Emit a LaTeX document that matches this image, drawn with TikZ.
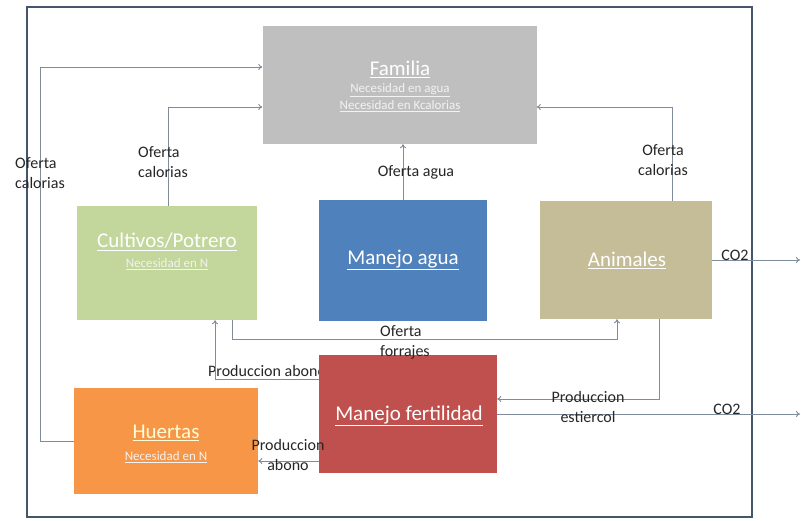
\documentclass[tikz,border=0pt]{standalone}
\usepackage{fontspec}
\setmainfont{Carlito}
\usetikzlibrary{arrows.meta}
\definecolor{famgray}{HTML}{BFBFBF}
\definecolor{culgreen}{HTML}{C3D69B}
\definecolor{aguablue}{HTML}{4F81BD}
\definecolor{anitan}{HTML}{C4BD97}
\definecolor{ferred}{HTML}{C0504D}
\definecolor{hueorange}{HTML}{F79646}
\definecolor{connc}{HTML}{7F8C9C}
\definecolor{framec}{HTML}{46566A}
\definecolor{txt}{HTML}{262626}
\tikzset{
  box/.style={draw=none, inner sep=0pt},
  conn/.style={draw=connc, line width=0.9pt, -{To[length=4pt,width=6pt]}},
  lbl/.style={text=txt, font=\fontsize{16}{20}\selectfont, inner sep=0pt, align=center},
  lbll/.style={lbl, align=left, anchor=west},
  ttl/.style={text=white, font=\fontsize{21}{24}\selectfont, inner sep=0pt, align=center},
  sub/.style={text=white!90!gray, font=\fontsize{13}{15}\selectfont, inner sep=0pt},
}
\newcommand{\ul}[1]{\underline{#1}}
\begin{document}
\begin{tikzpicture}[x=1pt,y=-1pt]
\useasboundingbox (0,0) rectangle (801,520);
\fill[white] (0,0) rectangle (801,520);
\draw[draw=framec, line width=1.6pt] (27,7) rectangle (752,517);

\node[lbll] (l6) at (208,371) {Produccion abono};

% boxes
\node[box, fill=famgray, minimum width=274pt, minimum height=118pt] (fam) at (399.5,85) {};
\node[box, fill=culgreen, minimum width=180pt, minimum height=114pt] (cul) at (167,263) {};
\node[box, fill=aguablue, minimum width=168pt, minimum height=121pt] (agua) at (403,260.5) {};
\node[box, fill=anitan, minimum width=172pt, minimum height=118pt] (ani) at (626,260) {};
\node[box, fill=ferred, minimum width=178pt, minimum height=118pt] (fer) at (408,414) {};
\node[box, fill=hueorange, minimum width=184pt, minimum height=106pt] (hue) at (166,441) {};

% box texts
\node[ttl] (famt) at (400,69) {\ul{Familia}};
\node[sub] (fams1) at (400,90) {\ul{Necesidad en agua}};
\node[sub] (fams2) at (400,106) {\ul{Necesidad en Kcalorias}};
\node[ttl] (cult) at (167,242) {\ul{Cultivos/Potrero}};
\node[sub] (culs) at (167,264) {\ul{Necesidad en N}};
\node[ttl] (aguat) at (403,260) {\ul{Manejo agua}};
\node[ttl] (anit) at (627,260) {\ul{Animales}};
\node[ttl] (fert) at (409,416) {\ul{Manejo fertilidad}};
\node[ttl, text=white!85!yellow] (huet) at (166,433) {\ul{Huertas}};
\node[sub] (hues) at (166,457) {\ul{Necesidad en N}};

% connectors
\draw[conn] (hue.west) -- ++(-33,0) |- ([yshift=18pt]fam.west);
\draw[conn] ([xshift=1pt]cul.north) |- ([yshift=-22pt]fam.west);
\draw[conn] (agua.north) -- (agua.north |- fam.south);
\draw[conn] ([xshift=46pt]ani.north) |- ([yshift=-22pt]fam.east);
\draw[conn] ([xshift=65pt]cul.south) -- ++(0,19) -| ([xshift=-9pt]ani.south);
\draw[conn] ([yshift=35pt]fer.west) -| ([xshift=48pt]cul.south);
\draw[conn] ([xshift=33pt]ani.south) |- ([yshift=15pt]fer.east);
\draw[conn] ([yshift=-47pt]fer.west) -- ([yshift=-20pt]hue.east);
\coordinate (co2a) at (800,260);
\coordinate (co2b) at (800,414);
\draw[conn] (ani.east) -- (co2a);
\draw[conn] (fer.east) -- (co2b);

% labels
\node[lbll] (l1) at (15,173) {Oferta\\calorias};
\node[lbll] (l2) at (138,162) {Oferta\\calorias};
\node[lbl] (l3) at (416,172) {Oferta agua};
\node[lbl] (l4) at (663,160) {Oferta\\calorias};
\node[lbll] (l5) at (380,342) {Oferta\\forrajes};
\node[lbl] (l7) at (588,407) {Produccion\\estiercol};
\node[lbl] (l8) at (288,455) {Produccion\\abono};
\node[lbl] (l9) at (727,409) {CO2};
\node[lbl] (l10) at (735,255) {CO2};
\end{tikzpicture}
\end{document}
